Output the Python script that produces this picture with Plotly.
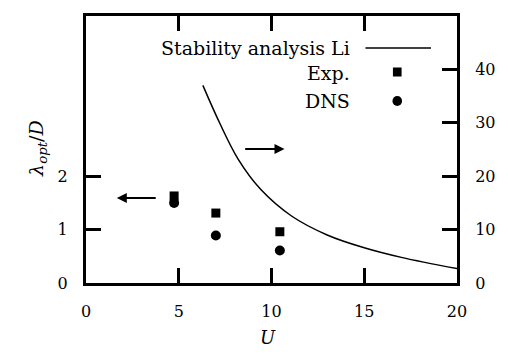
import plotly.graph_objects as go

# Optimal wavelength vs. velocity
exp_u = [4.75, 7.0, 10.45]
exp_lambda = [1.63, 1.31, 0.96]
dns_u = [4.75, 7.0, 10.45]
dns_lambda = [1.50, 0.89, 0.61]

# Stability analysis (right-hand axis)
li_u = [6.3, 7.2, 8.2, 9.4, 11.1, 13.0, 15.0, 17.0, 20.0]
li_val = [37.0, 30.0, 23.2, 17.6, 12.5, 9.0, 6.6, 4.8, 2.7]

x_ticks = [0, 5, 10, 15, 20]
left_ticks = [0, 1, 2]
right_ticks = [0, 10, 20, 30, 40]

FONT = "DejaVu Serif"
W, H = 508, 360
L, R, T, B = 86, 37, 16, 77
PW, PH = W - L - R, H - T - B


def px(x):
    return (x - L) / PW


def py(y):
    return (H - B - y) / PH


fig = go.Figure()
fig.add_trace(go.Scatter(x=exp_u, y=exp_lambda, mode="markers",
                         marker=dict(symbol="square", size=9, color="black"),
                         showlegend=False))
fig.add_trace(go.Scatter(x=dns_u, y=dns_lambda, mode="markers",
                         marker=dict(symbol="circle", size=10, color="black"),
                         showlegend=False))
fig.add_trace(go.Scatter(x=li_u, y=li_val, mode="lines", yaxis="y2",
                         line=dict(color="black", width=1.5, shape="spline"),
                         showlegend=False))

axis_common = dict(showline=True, linecolor="black", linewidth=3, ticks="inside",
                   ticklen=15, tickwidth=2.5, tickcolor="black", showgrid=False,
                   zeroline=False, tickfont=dict(family=FONT, size=16, color="black"))

fig.update_layout(
    width=W, height=H,
    margin=dict(l=L, r=R, t=T, b=B),
    paper_bgcolor="white", plot_bgcolor="white",
    xaxis=dict(range=[0, 20], tickvals=x_ticks, mirror="ticks",
               ticklabelstandoff=12, **axis_common),
    yaxis=dict(range=[0, 5], tickvals=left_ticks, ticklabelstandoff=12, **axis_common),
    yaxis2=dict(range=[0, 50], tickvals=right_ticks, overlaying="y", side="right",
                ticklabelstandoff=12, **axis_common),
)

# Direction arrows pointing to the relevant axis
fig.add_annotation(x=1.66, y=1.59, ax=3.84, ay=1.59, xref="x", yref="y",
                   axref="x", ayref="y", showarrow=True, arrowhead=2,
                   arrowsize=1, arrowwidth=2, arrowcolor="black", text="")
fig.add_annotation(x=10.7, y=25.1, ax=8.5, ay=25.1, xref="x", yref="y2",
                   axref="x", ayref="y2", showarrow=True, arrowhead=2,
                   arrowsize=1, arrowwidth=2, arrowcolor="black", text="")

# Legend
leg_font = dict(family=FONT, size=19, color="black")
for label, ypos in [("Stability analysis Li", 48), ("Exp.", 73), ("DNS", 101)]:
    fig.add_annotation(x=px(362), y=py(ypos), xref="paper", yref="paper",
                       text=label, showarrow=False, xanchor="right",
                       yanchor="middle", font=leg_font)
fig.add_shape(type="line", xref="paper", yref="paper",
              x0=px(376), x1=px(444), y0=py(48), y1=py(48),
              line=dict(color="black", width=1.5))
fig.add_shape(type="rect", xref="paper", yref="paper",
              x0=px(404.5), x1=px(413.5), y0=py(76.5), y1=py(67.5),
              fillcolor="black", line=dict(width=0))
fig.add_shape(type="circle", xref="paper", yref="paper",
              x0=px(404), x1=px(414), y0=py(106), y1=py(96),
              fillcolor="black", line=dict(width=0))

# Axis titles
fig.add_annotation(x=px(20), y=py(148), xref="paper", yref="paper",
                   text="<i>λ</i><sub><i>opt</i></sub>/<i>D</i>", textangle=-90,
                   showarrow=False, font=dict(family=FONT, size=19, color="black"))
fig.add_annotation(x=px(275), y=py(350), xref="paper", yref="paper",
                   text="<i>U</i>", showarrow=False,
                   font=dict(family=FONT, size=18, color="black"))

fig.write_html("out.html")
